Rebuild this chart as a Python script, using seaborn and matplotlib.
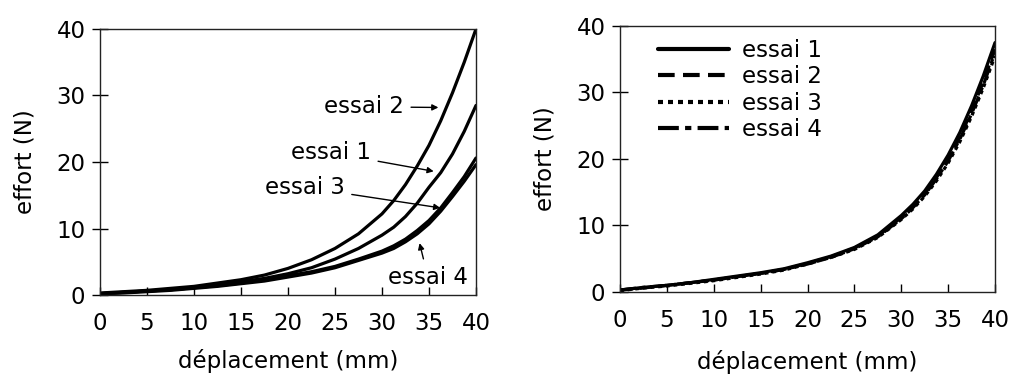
"""Courbes effort / déplacement - essais de traction (4 essais, 2 configurations)"""

import matplotlib
matplotlib.use("Agg")
import matplotlib.pyplot as plt
import seaborn as sns
import pandas as pd

# positions de mesure (mm), resserrées en fin de course où la courbe monte vite
deplacement = [0, 2.5, 5, 7.5, 10, 12.5, 15, 17.5, 20, 22.5, 25, 27.5,
               30, 31.25, 32.5, 33.75, 35, 36.25, 37.5, 38.75, 40]

# panneau gauche : les 4 essais se séparent
gauche_essai1 = [0.2, 0.4, 0.6, 0.8, 1.1, 1.5, 2.0, 2.5, 3.2, 4.1, 5.4, 7.0,
                 9.0, 10.2, 11.8, 13.8, 16.2, 18.4, 21.2, 24.6, 28.5]
gauche_essai2 = [0.3, 0.5, 0.7, 1.0, 1.3, 1.8, 2.3, 3.0, 4.0, 5.3, 7.0, 9.2,
                 12.2, 14.2, 16.6, 19.4, 22.5, 26.2, 30.4, 35.0, 40.0]
gauche_essai3 = [0.2, 0.4, 0.6, 0.8, 1.1, 1.4, 1.8, 2.3, 2.9, 3.5, 4.3, 5.4,
                 6.6, 7.4, 8.4, 9.7, 11.2, 13.1, 15.4, 17.8, 20.6]
gauche_essai4 = [0.2, 0.3, 0.5, 0.7, 1.0, 1.3, 1.7, 2.1, 2.7, 3.3, 4.1, 5.2,
                 6.3, 7.0, 8.0, 9.2, 10.7, 12.6, 14.8, 17.1, 19.6]

# panneau droit : les 4 essais se superposent
droite_essai1 = [0.3, 0.7, 1.0, 1.4, 1.9, 2.4, 2.9, 3.5, 4.4, 5.4, 6.7, 8.6,
                 11.5, 13.2, 15.2, 17.7, 20.6, 24.0, 28.0, 32.5, 37.5]
droite_essai2 = [0.3, 0.6, 1.0, 1.4, 1.8, 2.3, 2.8, 3.4, 4.3, 5.3, 6.6, 8.4,
                 11.2, 12.9, 14.8, 17.2, 20.0, 23.3, 27.2, 31.6, 36.5]
droite_essai3 = [0.2, 0.6, 0.9, 1.3, 1.7, 2.2, 2.7, 3.3, 4.2, 5.2, 6.4, 8.2,
                 10.9, 12.5, 14.4, 16.7, 19.4, 22.6, 26.4, 30.7, 35.5]
droite_essai4 = [0.3, 0.7, 1.0, 1.4, 1.8, 2.3, 2.8, 3.4, 4.2, 5.2, 6.5, 8.3,
                 11.0, 12.7, 14.6, 17.0, 19.7, 23.0, 26.8, 31.1, 36.0]

essais = ["essai 1", "essai 2", "essai 3", "essai 4"]
styles = ["-", (0, (4, 2)), (0, (1.2, 1.2)), (0, (5, 1.5, 1.5, 1.5))]

FS = 16.5


def style_axes(ax, xpad=10):
    ax.set_xlim(0, 40)
    ax.set_ylim(0, 40)
    ax.set_xticks(range(0, 41, 5))
    ax.set_yticks(range(0, 41, 10))
    ax.tick_params(axis="x", direction="in", length=6, width=1, pad=12, labelsize=FS,
                   colors="black")
    ax.tick_params(axis="y", direction="inout", length=11, width=1, pad=5, labelsize=FS,
                   colors="black")
    for sp in ax.spines.values():
        sp.set_linewidth(1)
        sp.set_color("#222222")
    ax.set_xlabel("déplacement (mm)", fontsize=FS, labelpad=xpad, color="black")
    ax.set_ylabel("effort (N)", fontsize=FS, labelpad=14, color="black")


def main():
    sns.set_style("ticks")
    plt.rcParams["font.family"] = ["DejaVu Sans"]

    fig = plt.figure(figsize=(10.11, 3.76), dpi=100)
    ax1 = fig.add_axes([0.0989, 0.2154, 0.3719, 0.7075])
    ax2 = fig.add_axes([0.6133, 0.2234, 0.3709, 0.7075])

    # gauche
    for y in [gauche_essai1, gauche_essai2, gauche_essai3, gauche_essai4]:
        df = pd.DataFrame({"x": deplacement, "y": y})
        sns.lineplot(data=df, x="x", y="y", ax=ax1, color="black", linewidth=2.3)

    arrow = dict(arrowstyle="-|>", color="black", lw=1, mutation_scale=9, shrinkA=3, shrinkB=0)
    ax1.annotate("essai 2", xy=(36.0, 28.2), xytext=(32.3, 28.3), ha="right", va="center",
                 fontsize=FS, color="black", arrowprops=arrow)
    ax1.annotate("essai 1", xy=(35.5, 18.6), xytext=(28.8, 21.4), ha="right", va="center",
                 fontsize=FS, color="black", arrowprops=arrow)
    ax1.annotate("essai 3", xy=(36.2, 13.1), xytext=(26.0, 16.2), ha="right", va="center",
                 fontsize=FS, color="black", arrowprops=arrow)
    ax1.annotate("essai 4", xy=(34.0, 7.8), xytext=(34.9, 2.6), ha="center", va="center",
                 fontsize=FS, color="black", arrowprops=arrow)
    style_axes(ax1)

    # droite
    for y, lab, ls in zip([droite_essai1, droite_essai2, droite_essai3, droite_essai4], essais, styles):
        df = pd.DataFrame({"x": deplacement, "y": y})
        sns.lineplot(data=df, x="x", y="y", ax=ax2, color="black", linewidth=2.3,
                     linestyle=ls, label=lab)
    leg = ax2.legend(loc="upper left", bbox_to_anchor=(0.1, 0.952), frameon=False, fontsize=FS,
                     handlelength=3.1, handletextpad=0.6, labelspacing=0.15, borderpad=0,
                     borderaxespad=0)
    for h in leg.get_lines():
        h.set_linewidth(3)
    for t in leg.get_texts():
        t.set_color("black")
    style_axes(ax2, xpad=13)

    fig.savefig("out.png", dpi=100)
    plt.close(fig)


if __name__ == "__main__":
    main()
